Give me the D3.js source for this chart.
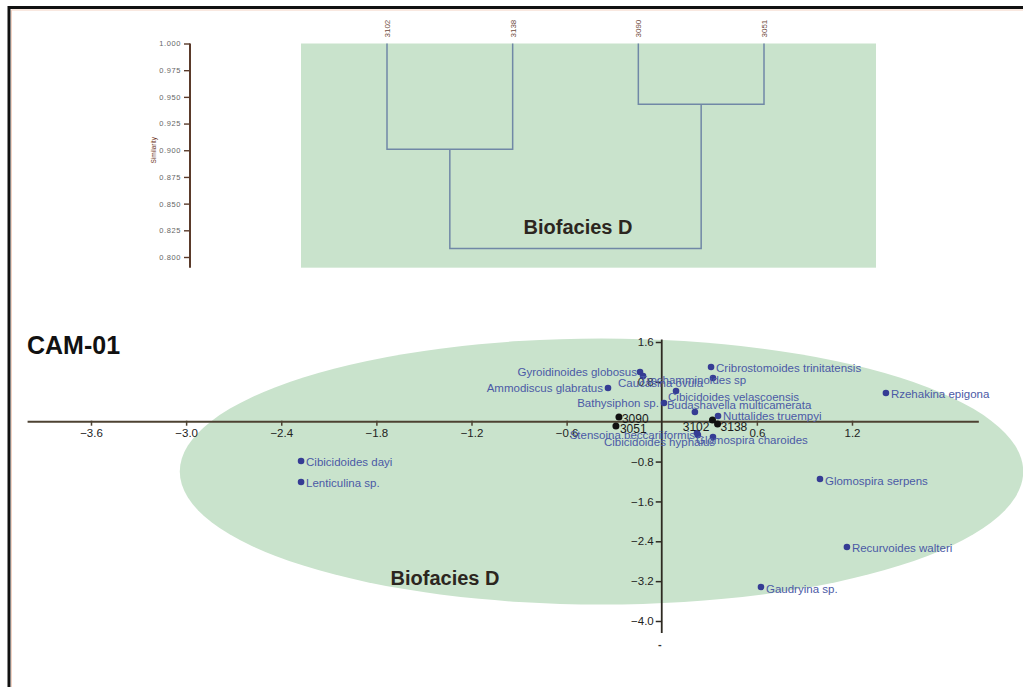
<!DOCTYPE html>
<html>
<head>
<meta charset="utf-8">
<script src="https://cdn.jsdelivr.net/npm/d3@7/dist/d3.min.js"></script>
<style>
  html, body { margin: 0; padding: 0; background: #ffffff; }
  svg { display: block; }
  text { font-family: "Liberation Sans", Arial, Helvetica, sans-serif; }
</style>
</head>
<body>
<svg id="chart" width="1023" height="687"></svg>
<script>
// ---- Cluster dendrogram (similarity) ----
const dendroLeaves = ["3102", "3138", "3090", "3051"];
const joinLeft = ["3102", "3090", "c1"];
const joinRight = ["3138", "3051", "c2"];
const joinSimilarity = [0.901, 0.943, 0.808];
const similarityTicks = [1.0, 0.975, 0.95, 0.925, 0.9, 0.875, 0.85, 0.825, 0.8];

// ---- Ordination biplot: species scores ----
const speciesNames = [
  "Gyroidinoides globosus", "Caucasina ovula", "Trochamminoides sp",
  "Ammodiscus glabratus", "Cribrostomoides trinitatensis", "Cibicidoides velascoensis",
  "Bathysiphon sp.", "Budashavella multicamerata", "Nuttalides truempyi",
  "Stensoina beccariiformis", "Cibicidoides hyphalus", "Glomospira charoides",
  "Rzehakina epigona", "Cibicidoides dayi", "Lenticulina sp.",
  "Glomospira serpens", "Recurvoides walteri", "Gaudryina sp."
];
const speciesAxis1 = [-0.137, -0.118, 0.323, -0.339, 0.311, 0.090, 0.014, 0.209, 0.355,
                      0.222, 0.228, 0.323, 1.414, -2.275, -2.275, 0.998, 1.168, 0.626];
const speciesAxis2 = [0.998, 0.917, 0.877, 0.676, 1.098, 0.616, 0.375, 0.195, 0.115,
                      -0.227, -0.267, -0.307, 0.576, -0.789, -1.210, -1.149, -2.514, -3.317];

// ---- Ordination biplot: sample scores ----
const sampleNames = ["3090", "3051", "3102", "3138"];
const sampleAxis1 = [-0.270, -0.289, 0.320, 0.352];
const sampleAxis2 = [0.094, -0.086, 0.034, -0.046];

const axis1Ticks = [-3.6, -3.0, -2.4, -1.8, -1.2, -0.6, 0.6, 1.2];
const axis2Ticks = [1.6, 0.8, -0.8, -1.6, -2.4, -3.2, -4.0];

// Biofacies envelope in score units: centre and radii
const faciesCentre = [-0.38, -1.0];
const faciesRadii = [2.66, 2.67];

// Label placement (pixel nudges and anchoring) for crowded labels
const speciesLabelNudge = [
  [-3, 0, "end"], [-25, 7, "start"], [-73, 2, "start"],
  [-5, 0, "end"], [5, 1, "start"], [-8, 6, "start"],
  [-5, 0, "end"], [-28, -7, "start"], [5, 0, "start"],
  [-2, 2, "end"], [-94, 7, "start"], [-17, 3, "start"],
  [5, 1, "start"], [5, 1, "start"], [5, 1, "start"],
  [5, 2, "start"], [5, 1, "start"], [5, 2, "start"]
];
const sampleLabelNudge = [[3, 2, "start"], [4, 3, "start"], [-3, 7, "end"], [3, 3, "start"]];

const svg = d3.select("#chart");

// Page frame
svg.append("path")
  .attr("d", "M 9 687 L 9 7.5 L 1023 7.5")
  .attr("fill", "none").attr("stroke", "#111").attr("stroke-width", 3);
svg.append("path")
  .attr("d", "M 11.5 687 L 11.5 10 L 1023 10")
  .attr("fill", "none").attr("stroke", "#f3d2c2").attr("stroke-width", 1);

// ================= Dendrogram =================
const simY = d3.scaleLinear().domain([0.8, 1.0]).range([257, 43.5]);
const leafX = d3.scalePoint().domain(dendroLeaves).range([387, 764]);

svg.append("rect")
  .attr("x", 301).attr("y", simY(1.0))
  .attr("width", 575).attr("height", simY(0.79) - simY(1.0))
  .attr("fill", "#c9e3cc");

const nodePos = {};
dendroLeaves.forEach(l => { nodePos[l] = { x: leafX(l), y: simY(1.0) }; });
joinSimilarity.forEach((s, i) => {
  const a = nodePos[joinLeft[i]], b = nodePos[joinRight[i]];
  const ym = simY(s);
  nodePos["c" + (i + 1)] = { x: (a.x + b.x) / 2, y: ym };
  svg.append("path")
    .attr("d", `M ${a.x} ${a.y} L ${a.x} ${ym} L ${b.x} ${ym} L ${b.x} ${b.y}`)
    .attr("fill", "none").attr("stroke", "#7088a6").attr("stroke-width", 1.5);
});

svg.selectAll(".leaflab").data(dendroLeaves).enter().append("text")
  .attr("transform", d => `translate(${leafX(d) + 3},${simY(1.0) - 6}) rotate(-90)`)
  .attr("text-anchor", "start")
  .attr("font-size", 8).attr("fill", "#6e4a3c")
  .text(d => d);

const simAxis = svg.append("g")
  .attr("transform", "translate(190,0)")
  .call(d3.axisLeft(simY).tickValues(similarityTicks)
        .tickFormat(d3.format(".3f")).tickSize(6).tickPadding(3));
simAxis.select(".domain").remove();
simAxis.selectAll(".tick line").attr("stroke", "#5a3a2a").attr("stroke-width", 1.4);
simAxis.selectAll(".tick text").attr("font-size", 7.5).attr("fill", "#666")
  .style("font-family", "'Liberation Sans', Arial, sans-serif").attr("letter-spacing", 0.6);
svg.append("line")
  .attr("x1", 190).attr("x2", 190)
  .attr("y1", simY(1.0)).attr("y2", simY(0.79))
  .attr("stroke", "#5a3a2a").attr("stroke-width", 2);

svg.append("text")
  .attr("transform", `translate(156,${simY(0.9)}) rotate(-90)`)
  .attr("text-anchor", "middle")
  .attr("font-size", 6.5).attr("fill", "#6b3222")
  .text("Similarity");

svg.append("text")
  .attr("x", 578).attr("y", 234)
  .attr("text-anchor", "middle")
  .attr("font-size", 20).attr("font-weight", "bold").attr("fill", "#2c2620")
  .text("Biofacies D");

// ================= Ordination biplot =================
const x = d3.scaleLinear().domain([-3.6, 1.2]).range([91, 852]);
const y = d3.scaleLinear().domain([-4.0, 1.6]).range([621, 342]);

svg.append("ellipse")
  .attr("cx", x(faciesCentre[0])).attr("cy", y(faciesCentre[1]))
  .attr("rx", x(faciesRadii[0]) - x(0)).attr("ry", y(0) - y(faciesRadii[1]))
  .attr("fill", "#c9e3cc");

svg.append("text")
  .attr("x", 27).attr("y", 354)
  .attr("font-size", 25).attr("font-weight", "bold").attr("fill", "#111")
  .text("CAM-01");

// Axis lines through the origin
svg.append("line")
  .attr("x1", x(-4.0)).attr("x2", x(2.0)).attr("y1", y(0)).attr("y2", y(0))
  .attr("stroke", "#4d4232").attr("stroke-width", 2);
svg.append("line")
  .attr("x1", x(0)).attr("x2", x(0)).attr("y1", y(1.65)).attr("y2", y(-4.24))
  .attr("stroke", "#2e2a22").attr("stroke-width", 1.8);

const xAxisG = svg.append("g")
  .attr("transform", `translate(0,${y(0)})`)
  .call(d3.axisBottom(x).tickValues(axis1Ticks).tickFormat(d3.format(".1f")).tickSize(4).tickPadding(3));
xAxisG.select(".domain").remove();
xAxisG.selectAll(".tick line").attr("stroke", "#4d4232").attr("stroke-width", 1.5).attr("y1", -1);
xAxisG.selectAll(".tick text").attr("font-size", 11.5).attr("fill", "#222")
  .style("font-family", "'Liberation Sans', Arial, sans-serif");

const yAxisG = svg.append("g")
  .attr("transform", `translate(${x(0)},0)`)
  .call(d3.axisLeft(y).tickValues(axis2Ticks).tickFormat(d3.format(".1f")).tickSize(6).tickPadding(2));
yAxisG.select(".domain").remove();
yAxisG.selectAll(".tick line").attr("stroke", "#2e2a22").attr("stroke-width", 1.5);
yAxisG.selectAll(".tick text").attr("font-size", 11.5).attr("fill", "#222")
  .style("font-family", "'Liberation Sans', Arial, sans-serif");

svg.append("text")
  .attr("x", x(0) - 2).attr("y", y(-4.55))
  .attr("text-anchor", "middle").attr("font-size", 11).attr("font-weight", "bold").attr("fill", "#333")
  .text("-");

// Species points and labels
const species = speciesNames.map((n, i) => ({
  name: n, a1: speciesAxis1[i], a2: speciesAxis2[i], nudge: speciesLabelNudge[i]
}));
svg.selectAll(".sp").data(species).enter().append("circle")
  .attr("cx", d => x(d.a1)).attr("cy", d => y(d.a2)).attr("r", 3.3)
  .attr("fill", "#353c94");
svg.selectAll(".splab").data(species).enter().append("text")
  .attr("x", d => x(d.a1) + d.nudge[0]).attr("y", d => y(d.a2) + d.nudge[1])
  .attr("dy", "0.35em")
  .attr("text-anchor", d => d.nudge[2])
  .attr("font-size", 11.5).attr("fill", "#4b5aa6")
  .text(d => d.name);

// Sample points and labels
const samples = sampleNames.map((n, i) => ({
  name: n, a1: sampleAxis1[i], a2: sampleAxis2[i], nudge: sampleLabelNudge[i]
}));
svg.selectAll(".smp").data(samples).enter().append("circle")
  .attr("cx", d => x(d.a1)).attr("cy", d => y(d.a2)).attr("r", 3.5)
  .attr("fill", "#111");
svg.selectAll(".smplab").data(samples).enter().append("text")
  .attr("x", d => x(d.a1) + d.nudge[0]).attr("y", d => y(d.a2) + d.nudge[1])
  .attr("dy", "0.35em")
  .attr("text-anchor", d => d.nudge[2])
  .attr("font-size", 12).attr("fill", "#1a1a1a")
  .text(d => d.name);

svg.append("text")
  .attr("x", 445).attr("y", 585)
  .attr("text-anchor", "middle")
  .attr("font-size", 20).attr("font-weight", "bold").attr("fill", "#2c2620")
  .text("Biofacies D");
</script>
</body>
</html>
